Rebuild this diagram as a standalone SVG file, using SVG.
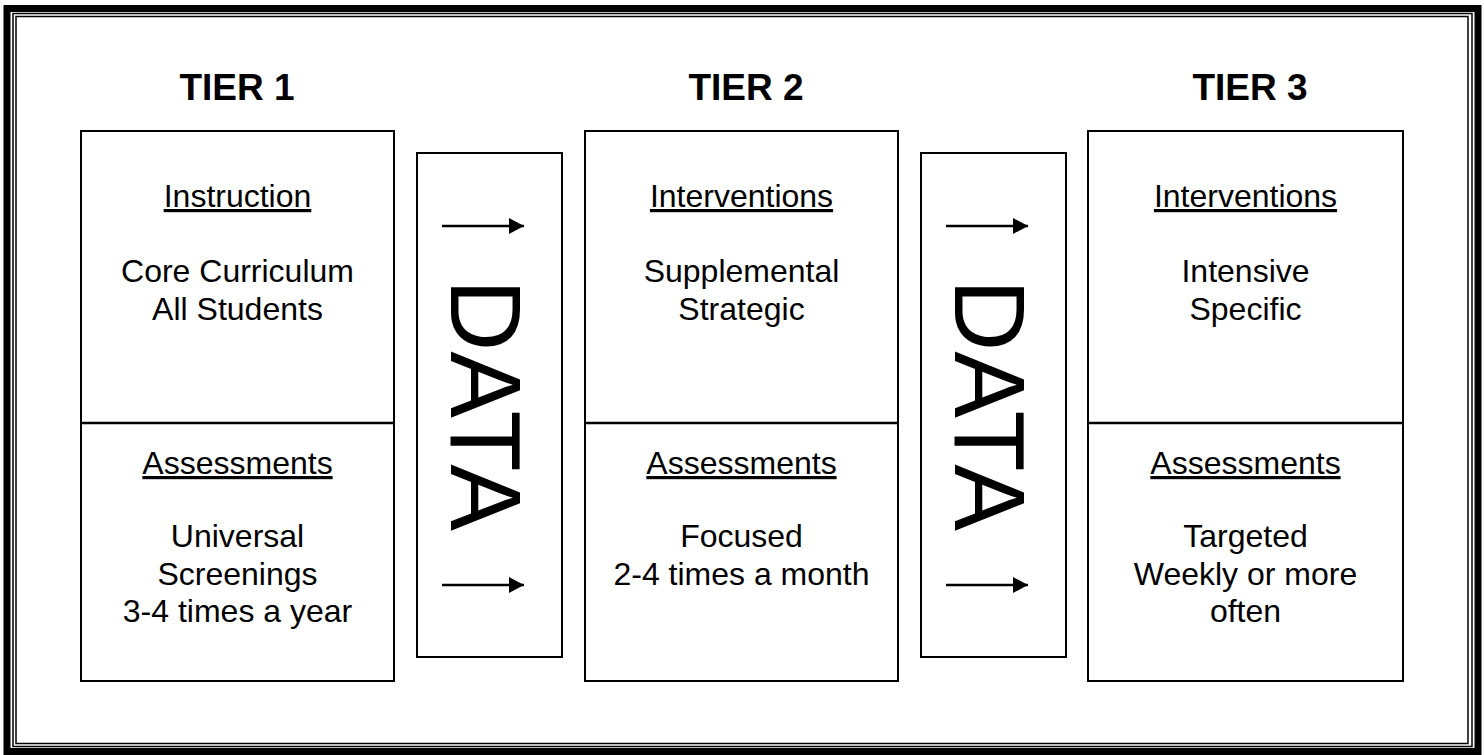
<svg xmlns="http://www.w3.org/2000/svg" width="1484" height="755" viewBox="0 0 1484 755">
<style>
.box{fill:#fff;stroke:#000;stroke-width:2}
.t{font-family:"Liberation Sans",Arial,sans-serif;font-size:32px;fill:#000;text-anchor:middle}
.u{text-decoration:underline}
.h{font-family:"Liberation Sans",Arial,sans-serif;font-size:37px;font-weight:bold;fill:#000;text-anchor:middle}
.d{font-family:"Liberation Sans",Arial,sans-serif;font-size:100px;fill:#000}
.ln{stroke:#000;stroke-width:2.5;fill:none}
</style>
<defs>
<marker id="ah" viewBox="0 0 15 16" refX="15" refY="8" markerWidth="15" markerHeight="16" markerUnits="userSpaceOnUse" orient="auto">
<path d="M0,0 L15,8 L0,16 Z" fill="#000"/>
</marker>
</defs>
<rect width="1484" height="755" fill="#fff"/>
<g id="frame" fill="none" stroke="#000">
<rect x="7" y="8.5" width="1471" height="743" stroke-width="7"/>
<rect x="13" y="13.5" width="1459" height="733" stroke-width="1.5"/>
<rect x="16" y="16.5" width="1452" height="727" stroke-width="1.5"/>
</g>
<g id="tier1">
<text class="h" x="237" y="100">TIER 1</text>
<rect class="box" x="81" y="131" width="313" height="550"/>
<line class="ln" x1="81" y1="423" x2="394" y2="423" stroke-width="2"/>
<text class="t u" x="237.5" y="207">Instruction</text>
<text class="t" x="237.5" y="282">Core Curriculum</text>
<text class="t" x="237.5" y="319.5">All Students</text>
<text class="t u" x="237.5" y="474">Assessments</text>
<text class="t" x="237.5" y="547">Universal</text>
<text class="t" x="237.5" y="584.5">Screenings</text>
<text class="t" x="237.5" y="622">3-4 times a year</text>
</g>
<g id="data1">
<rect class="box" x="417" y="153" width="145" height="504"/>
<text class="d" transform="translate(451,279) rotate(90)">DATA</text>
</g>
<g id="tier2">
<text class="h" x="746" y="100">TIER 2</text>
<rect class="box" x="585" y="131" width="313" height="550"/>
<line class="ln" x1="585" y1="423" x2="898" y2="423" stroke-width="2"/>
<text class="t u" x="741.5" y="207">Interventions</text>
<text class="t" x="741.5" y="282">Supplemental</text>
<text class="t" x="741.5" y="319.5">Strategic</text>
<text class="t u" x="741.5" y="474">Assessments</text>
<text class="t" x="741.5" y="547">Focused</text>
<text class="t" x="741.5" y="584.5">2-4 times a month</text>
</g>
<g id="data2">
<rect class="box" x="921" y="153" width="145" height="504"/>
<text class="d" transform="translate(955,279) rotate(90)">DATA</text>
</g>
<g id="tier3">
<text class="h" x="1250" y="100">TIER 3</text>
<rect class="box" x="1088" y="131" width="315" height="550"/>
<line class="ln" x1="1088" y1="423" x2="1403" y2="423" stroke-width="2"/>
<text class="t u" x="1245.5" y="207">Interventions</text>
<text class="t" x="1245.5" y="282">Intensive</text>
<text class="t" x="1245.5" y="319.5">Specific</text>
<text class="t u" x="1245.5" y="474">Assessments</text>
<text class="t" x="1245.5" y="547">Targeted</text>
<text class="t" x="1245.5" y="584.5">Weekly or more</text>
<text class="t" x="1245.5" y="622">often</text>
</g>
<g id="connectors">
<line class="ln" x1="442" y1="226" x2="524" y2="226" marker-end="url(#ah)"/>
<line class="ln" x1="442" y1="585" x2="524" y2="585" marker-end="url(#ah)"/>
<line class="ln" x1="946" y1="226" x2="1028" y2="226" marker-end="url(#ah)"/>
<line class="ln" x1="946" y1="585" x2="1028" y2="585" marker-end="url(#ah)"/>
</g>
</svg>
